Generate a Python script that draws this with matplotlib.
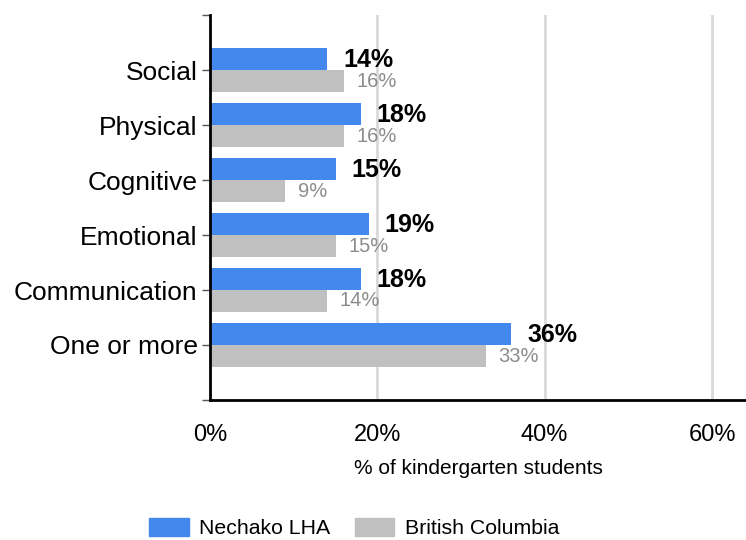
import matplotlib.pyplot as plt
import numpy as np
from matplotlib.patches import Patch

plt.rcParams["font.family"] = ["Liberation Sans", "DejaVu Sans"]

# Data
categories = ["Social", "Physical", "Cognitive", "Emotional", "Communication", "One or more"]
nechako = [14, 18, 15, 19, 18, 36]
bc = [16, 16, 9, 15, 14, 33]
series_names = ["Nechako LHA", "British Columbia"]

blue = "#4389ed"
grey = "#c0c0c0"

fig = plt.figure(figsize=(7.46, 5.40), dpi=100)
ax = fig.add_axes([210 / 746, 140 / 540, 536 / 746, 385 / 540])

y = np.arange(len(categories))
h = 0.4
ax.barh(y - h / 2, nechako, height=h, color=blue, zorder=3)
ax.barh(y + h / 2, bc, height=h, color=grey, zorder=3)

for yi, v in zip(y, nechako):
    ax.text(v + 1.9, yi - h / 2 + 0.01, f"{v}%", fontsize=18, fontweight="bold",
            color="black", va="center", ha="left", zorder=4)
for yi, v in zip(y, bc):
    ax.text(v + 1.5, yi + h / 2 + 0.0, f"{v}%", fontsize=14.5,
            color="#8c8c8c", va="center", ha="left", zorder=4)

ax.set_ylim(6, -1)
ax.set_xlim(0, 64.06)
ax.set_yticks(np.arange(-1, 7))
ax.set_yticklabels([""] + categories + [""], fontsize=19)
ax.tick_params(axis="y", length=6, width=1, color="#555555", pad=3)

ax.set_xticks([0, 20, 40, 60])
ax.set_xticklabels(["0%", "20%", "40%", "60%"], fontsize=17)
ax.tick_params(axis="x", length=0, pad=17)
ax.grid(axis="x", color="#d9d9d9", linewidth=2, zorder=0)

for s in ["top", "right"]:
    ax.spines[s].set_visible(False)
ax.spines["left"].set_linewidth(2)
ax.spines["bottom"].set_linewidth(2)
ax.spines["left"].set_zorder(5)
ax.spines["bottom"].set_zorder(5)

ax.set_xlabel("% of kindergarten students", fontsize=15, labelpad=10)

handles = [Patch(color=blue), Patch(color=grey)]
fig.legend(handles, series_names, loc="center", bbox_to_anchor=(354 / 746, 12 / 540),
           ncol=2, frameon=False, fontsize=15.3, handlelength=1.87, handleheight=0.9,
           handletextpad=0.48, columnspacing=1.15)

plt.savefig("out.png", dpi=100)
